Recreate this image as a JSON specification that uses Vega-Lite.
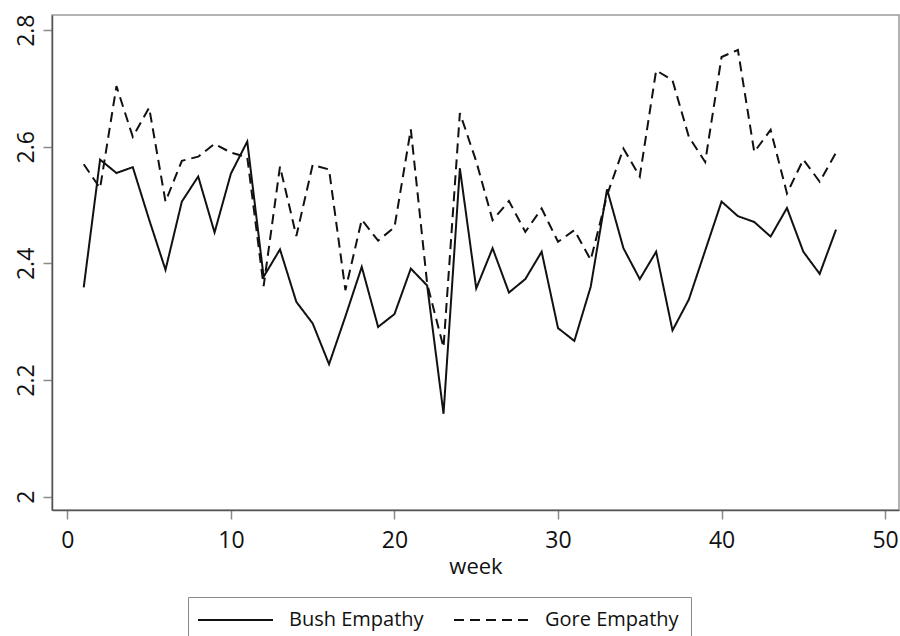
{
  "$schema": "https://vega.github.io/schema/vega-lite/v6.json",
  "autosize": "none",
  "width": 847,
  "height": 495,
  "padding": {"left": 52, "top": 15, "right": 1, "bottom": 126},
  "background": "white",
  "config": {
    "font": "Open Sans",
    "view": {"stroke": "#9a9a9a", "strokeWidth": 1.5},
    "axis": {
      "grid": false,
      "domainColor": "#555555",
      "domainWidth": 1.5,
      "tickColor": "#8a8a8a",
      "tickWidth": 1.5,
      "tickSize": 9,
      "labelColor": "#111111",
      "labelFont": "Open Sans",
      "labelFontSize": 23,
      "titleFont": "Open Sans",
      "titleFontSize": 22,
      "titleFontWeight": "normal",
      "titleColor": "#111111"
    }
  },
  "data": {
    "values": [
      {"week": 1, "series": "Bush Empathy", "value": 2.359},
      {"week": 2, "series": "Bush Empathy", "value": 2.578},
      {"week": 3, "series": "Bush Empathy", "value": 2.555},
      {"week": 4, "series": "Bush Empathy", "value": 2.565},
      {"week": 5, "series": "Bush Empathy", "value": 2.475},
      {"week": 6, "series": "Bush Empathy", "value": 2.389},
      {"week": 7, "series": "Bush Empathy", "value": 2.506},
      {"week": 8, "series": "Bush Empathy", "value": 2.549},
      {"week": 9, "series": "Bush Empathy", "value": 2.453},
      {"week": 10, "series": "Bush Empathy", "value": 2.554},
      {"week": 11, "series": "Bush Empathy", "value": 2.609},
      {"week": 12, "series": "Bush Empathy", "value": 2.377},
      {"week": 13, "series": "Bush Empathy", "value": 2.424},
      {"week": 14, "series": "Bush Empathy", "value": 2.334},
      {"week": 15, "series": "Bush Empathy", "value": 2.297},
      {"week": 16, "series": "Bush Empathy", "value": 2.227},
      {"week": 17, "series": "Bush Empathy", "value": 2.309},
      {"week": 18, "series": "Bush Empathy", "value": 2.394},
      {"week": 19, "series": "Bush Empathy", "value": 2.291},
      {"week": 20, "series": "Bush Empathy", "value": 2.313},
      {"week": 21, "series": "Bush Empathy", "value": 2.391},
      {"week": 22, "series": "Bush Empathy", "value": 2.362},
      {"week": 23, "series": "Bush Empathy", "value": 2.142},
      {"week": 24, "series": "Bush Empathy", "value": 2.563},
      {"week": 25, "series": "Bush Empathy", "value": 2.357},
      {"week": 26, "series": "Bush Empathy", "value": 2.426},
      {"week": 27, "series": "Bush Empathy", "value": 2.350},
      {"week": 28, "series": "Bush Empathy", "value": 2.373},
      {"week": 29, "series": "Bush Empathy", "value": 2.420},
      {"week": 30, "series": "Bush Empathy", "value": 2.289},
      {"week": 31, "series": "Bush Empathy", "value": 2.267},
      {"week": 32, "series": "Bush Empathy", "value": 2.360},
      {"week": 33, "series": "Bush Empathy", "value": 2.527},
      {"week": 34, "series": "Bush Empathy", "value": 2.426},
      {"week": 35, "series": "Bush Empathy", "value": 2.373},
      {"week": 36, "series": "Bush Empathy", "value": 2.420},
      {"week": 37, "series": "Bush Empathy", "value": 2.285},
      {"week": 38, "series": "Bush Empathy", "value": 2.338},
      {"week": 39, "series": "Bush Empathy", "value": 2.422},
      {"week": 40, "series": "Bush Empathy", "value": 2.506},
      {"week": 41, "series": "Bush Empathy", "value": 2.481},
      {"week": 42, "series": "Bush Empathy", "value": 2.471},
      {"week": 43, "series": "Bush Empathy", "value": 2.446},
      {"week": 44, "series": "Bush Empathy", "value": 2.495},
      {"week": 45, "series": "Bush Empathy", "value": 2.420},
      {"week": 46, "series": "Bush Empathy", "value": 2.382},
      {"week": 47, "series": "Bush Empathy", "value": 2.458},
      {"week": 1, "series": "Gore Empathy", "value": 2.570},
      {"week": 2, "series": "Gore Empathy", "value": 2.529},
      {"week": 3, "series": "Gore Empathy", "value": 2.704},
      {"week": 4, "series": "Gore Empathy", "value": 2.617},
      {"week": 5, "series": "Gore Empathy", "value": 2.667},
      {"week": 6, "series": "Gore Empathy", "value": 2.506},
      {"week": 7, "series": "Gore Empathy", "value": 2.576},
      {"week": 8, "series": "Gore Empathy", "value": 2.583},
      {"week": 9, "series": "Gore Empathy", "value": 2.605},
      {"week": 10, "series": "Gore Empathy", "value": 2.590},
      {"week": 11, "series": "Gore Empathy", "value": 2.582},
      {"week": 12, "series": "Gore Empathy", "value": 2.361},
      {"week": 13, "series": "Gore Empathy", "value": 2.566},
      {"week": 14, "series": "Gore Empathy", "value": 2.447},
      {"week": 15, "series": "Gore Empathy", "value": 2.569},
      {"week": 16, "series": "Gore Empathy", "value": 2.561},
      {"week": 17, "series": "Gore Empathy", "value": 2.354},
      {"week": 18, "series": "Gore Empathy", "value": 2.475},
      {"week": 19, "series": "Gore Empathy", "value": 2.439},
      {"week": 20, "series": "Gore Empathy", "value": 2.462},
      {"week": 21, "series": "Gore Empathy", "value": 2.630},
      {"week": 22, "series": "Gore Empathy", "value": 2.365},
      {"week": 23, "series": "Gore Empathy", "value": 2.256},
      {"week": 24, "series": "Gore Empathy", "value": 2.658},
      {"week": 25, "series": "Gore Empathy", "value": 2.575},
      {"week": 26, "series": "Gore Empathy", "value": 2.474},
      {"week": 27, "series": "Gore Empathy", "value": 2.507},
      {"week": 28, "series": "Gore Empathy", "value": 2.454},
      {"week": 29, "series": "Gore Empathy", "value": 2.494},
      {"week": 30, "series": "Gore Empathy", "value": 2.437},
      {"week": 31, "series": "Gore Empathy", "value": 2.457},
      {"week": 32, "series": "Gore Empathy", "value": 2.406},
      {"week": 33, "series": "Gore Empathy", "value": 2.517},
      {"week": 34, "series": "Gore Empathy", "value": 2.597},
      {"week": 35, "series": "Gore Empathy", "value": 2.549},
      {"week": 36, "series": "Gore Empathy", "value": 2.731},
      {"week": 37, "series": "Gore Empathy", "value": 2.714},
      {"week": 38, "series": "Gore Empathy", "value": 2.617},
      {"week": 39, "series": "Gore Empathy", "value": 2.574},
      {"week": 40, "series": "Gore Empathy", "value": 2.754},
      {"week": 41, "series": "Gore Empathy", "value": 2.766},
      {"week": 42, "series": "Gore Empathy", "value": 2.591},
      {"week": 43, "series": "Gore Empathy", "value": 2.629},
      {"week": 44, "series": "Gore Empathy", "value": 2.520},
      {"week": 45, "series": "Gore Empathy", "value": 2.578},
      {"week": 46, "series": "Gore Empathy", "value": 2.540},
      {"week": 47, "series": "Gore Empathy", "value": 2.590}
    ]
  },
  "mark": {"type": "line", "color": "#111111", "strokeWidth": 2},
  "encoding": {
    "x": {
      "field": "week",
      "type": "quantitative",
      "scale": {"domain": [-0.94, 50.85], "nice": false, "zero": false},
      "axis": {
        "values": [0, 10, 20, 30, 40, 50],
        "title": "week",
        "labelPadding": 10,
        "titlePadding": 4
      }
    },
    "y": {
      "field": "value",
      "type": "quantitative",
      "scale": {"domain": [1.977, 2.826], "nice": false, "zero": false},
      "axis": {
        "values": [2, 2.2, 2.4, 2.6, 2.8],
        "format": ".1~f",
        "title": null,
        "labelAngle": -90,
        "labelAlign": "center",
        "labelBaseline": "bottom",
        "labelPadding": 5
      }
    },
    "strokeDash": {
      "field": "series",
      "type": "nominal",
      "scale": {
        "domain": ["Bush Empathy", "Gore Empathy"],
        "range": [[1, 0], [10, 6]]
      },
      "legend": {
        "title": null,
        "orient": "none",
        "direction": "horizontal",
        "legendX": 136,
        "legendY": 582,
        "strokeColor": "#8a8a8a",
        "fillColor": "white",
        "padding": 12,
        "symbolType": "M-3.75,0H3.75",
        "symbolSize": 400,
        "symbolOffset": 24.5,
        "symbolStrokeWidth": 2,
        "symbolStrokeColor": "#111111",
        "labelFontSize": 20,
        "labelFont": "Open Sans",
        "labelColor": "#111111",
        "labelOffset": 42.5,
        "columnPadding": 26
      }
    }
  }
}
